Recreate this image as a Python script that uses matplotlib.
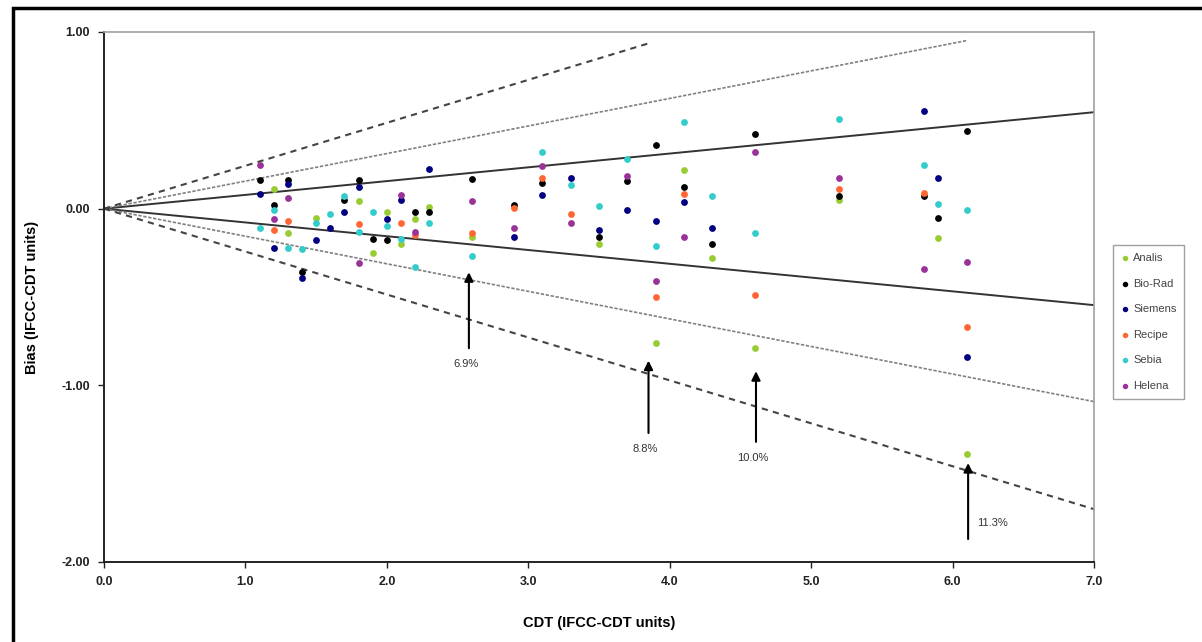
import matplotlib
matplotlib.use("Agg")
import matplotlib.pyplot as plt
from matplotlib.patches import Rectangle

plt.rcParams["font.family"] = ["Liberation Sans", "DejaVu Sans"]
plt.rcParams["axes.unicode_minus"] = False

# ---- measurements per kit: (CDT value, bias) ----
analis_x = [1.2, 1.3, 1.5, 1.8, 1.9, 2.0, 2.1, 2.2, 2.3, 2.6, 3.5, 3.9, 4.1, 4.3, 4.6, 5.2, 5.9, 6.1]
analis_y = [0.11, -0.14, -0.05, 0.045, -0.25, -0.02, -0.20, -0.06, 0.01, -0.16, -0.20, -0.76, 0.22, -0.28, -0.79, 0.05, -0.165, -1.39]

biorad_x = [1.1, 1.2, 1.3, 1.4, 1.7, 1.8, 1.9, 2.0, 2.2, 2.3, 2.6, 2.9, 3.1, 3.5, 3.7, 3.9, 4.1, 4.3, 4.6, 5.2, 5.8, 5.9, 6.1]
biorad_y = [0.16, 0.02, 0.165, -0.36, 0.05, 0.165, -0.17, -0.18, -0.02, -0.02, 0.17, 0.02, 0.145, -0.16, 0.155, 0.36, 0.12, -0.20, 0.42, 0.07, 0.07, -0.055, 0.44]

siemens_x = [1.1, 1.2, 1.3, 1.4, 1.5, 1.6, 1.7, 1.8, 2.0, 2.1, 2.3, 2.9, 3.1, 3.3, 3.5, 3.7, 3.9, 4.1, 4.3, 5.8, 5.9, 6.1]
siemens_y = [0.085, -0.22, 0.14, -0.39, -0.18, -0.11, -0.02, 0.12, -0.06, 0.05, 0.225, -0.16, 0.08, 0.175, -0.12, -0.01, -0.07, 0.035, -0.11, 0.555, 0.175, -0.84]

recipe_x = [1.2, 1.3, 1.8, 2.1, 2.2, 2.6, 2.9, 3.1, 3.3, 3.9, 4.1, 4.6, 5.2, 5.8, 6.1]
recipe_y = [-0.12, -0.07, -0.085, -0.08, -0.15, -0.14, 0.005, 0.175, -0.03, -0.50, 0.085, -0.49, 0.11, 0.09, -0.67]

sebia_x = [1.1, 1.2, 1.3, 1.4, 1.5, 1.6, 1.7, 1.8, 1.9, 2.0, 2.1, 2.2, 2.3, 2.6, 3.1, 3.3, 3.5, 3.7, 3.9, 4.1, 4.3, 4.6, 5.2, 5.8, 5.9, 6.1]
sebia_y = [-0.11, -0.01, -0.22, -0.23, -0.08, -0.03, 0.07, -0.13, -0.02, -0.10, -0.17, -0.33, -0.08, -0.27, 0.32, 0.135, 0.017, 0.28, -0.21, 0.49, 0.07, -0.14, 0.51, 0.245, 0.025, -0.005]

helena_x = [1.1, 1.2, 1.3, 1.8, 2.1, 2.2, 2.6, 2.9, 3.1, 3.3, 3.7, 3.9, 4.1, 4.6, 5.2, 5.8, 6.1]
helena_y = [0.25, -0.06, 0.06, -0.31, 0.08, -0.13, 0.045, -0.11, 0.24, -0.08, 0.185, -0.41, -0.16, 0.32, 0.175, -0.34, -0.30]

series_names = ["Analis", "Bio-Rad", "Siemens", "Recipe", "Sebia", "Helena"]
series_colors = ["#99CC33", "#000000", "#000080", "#FF6633", "#33CCCC", "#993399"]

# ---- limit lines through the origin: relative bias slope and x end ----
limit_slopes = [0.078, -0.078, 0.156, -0.156, 0.243, -0.243]
limit_x_end = [7.0, 7.0, 6.1, 7.0, 3.85, 7.0]

# ---- annotated arrows: position, head, tail, label ----
arrow_labels = ["6.9%", "8.8%", "10.0%", "11.3%"]
arrow_x = [2.58, 3.85, 4.61, 6.11]
arrow_head_y = [-0.36, -0.86, -0.92, -1.44]
arrow_tail_y = [-0.79, -1.27, -1.32, -1.87]

x_ticks = [0, 1, 2, 3, 4, 5, 6, 7]
y_ticks = [1, 0, -1, -2]

fig = plt.figure(figsize=(12.02, 6.42), dpi=100)
ax = fig.add_axes([104 / 1202, 1 - 562 / 642, (1094 - 104) / 1202, (562 - 32) / 642])

# outer frame (left and top edges fall inside the canvas)
fig.patches.append(Rectangle((13 / 1202, -10 / 642), 1200 / 1202, 644 / 642,
                             transform=fig.transFigure, fill=False,
                             edgecolor="black", linewidth=2.5))

line_styles = [
    dict(color="#333333", linestyle="-", linewidth=1.4),
    dict(color="#333333", linestyle="-", linewidth=1.4),
    dict(color="#808080", linestyle=(0, (2, 1)), linewidth=1.2),
    dict(color="#808080", linestyle=(0, (2, 1)), linewidth=1.2),
    dict(color="#444444", linestyle=(0, (3, 2.5)), linewidth=1.5),
    dict(color="#444444", linestyle=(0, (3, 2.5)), linewidth=1.5),
]
for slope, xe, st in zip(limit_slopes, limit_x_end, line_styles):
    ax.plot([0, xe], [0, slope * xe], zorder=2, **st)

all_x = [analis_x, biorad_x, siemens_x, recipe_x, sebia_x, helena_x]
all_y = [analis_y, biorad_y, siemens_y, recipe_y, sebia_y, helena_y]
for xs, ys, name, col in zip(all_x, all_y, series_names, series_colors):
    ax.scatter(xs, ys, s=24, color=col, label=name, zorder=3, linewidths=0)

for lab, xa, yh, yt in zip(arrow_labels, arrow_x, arrow_head_y, arrow_tail_y):
    ax.annotate("", xy=(xa, yh), xytext=(xa, yt),
                arrowprops=dict(arrowstyle="-|>", color="black", lw=1.5,
                                mutation_scale=13, shrinkA=0, shrinkB=0),
                zorder=4)
    if lab == "11.3%":
        ax.text(xa + 0.06, yt + 0.09, lab, ha="left", va="center",
                fontsize=8, color="#333333")
    else:
        ax.text(xa - 0.02, yt - 0.09, lab, ha="center", va="center",
                fontsize=8, color="#333333")

ax.set_xlim(0, 7)
ax.set_ylim(-2, 1)
ax.set_xticks(x_ticks)
ax.set_xticklabels([f"{v:.1f}" for v in x_ticks], fontsize=9, fontweight="bold")
ax.set_yticks(y_ticks)
ax.set_yticklabels([f"{v:.2f}" for v in y_ticks], fontsize=9, fontweight="bold")
ax.tick_params(direction="out", length=4, width=1, pad=6, colors="#222222")

for side in ["left", "bottom"]:
    ax.spines[side].set_color("#222222")
    ax.spines[side].set_linewidth(1.4)
for side in ["top", "right"]:
    ax.spines[side].set_color("#a0a0a0")
    ax.spines[side].set_linewidth(1.2)

ax.set_xlabel("CDT (IFCC-CDT units)", fontsize=10.5, fontweight="bold", labelpad=20)
ax.set_ylabel("Bias (IFCC-CDT units)", fontsize=10.5, fontweight="bold", labelpad=16)

leg = fig.legend(loc="center left", bbox_to_anchor=(1113 / 1202, 1 - 322 / 642),
                 fontsize=8, labelspacing=1.4, handletextpad=0.3,
                 handlelength=0.8, borderpad=0.7, frameon=True, fancybox=False,
                 markerscale=0.8, borderaxespad=0)
leg.get_frame().set_edgecolor("#888888")
leg.get_frame().set_linewidth(1.0)
for t in leg.get_texts():
    t.set_color("#444444")

fig.savefig("out.png", dpi=100, facecolor="white")
